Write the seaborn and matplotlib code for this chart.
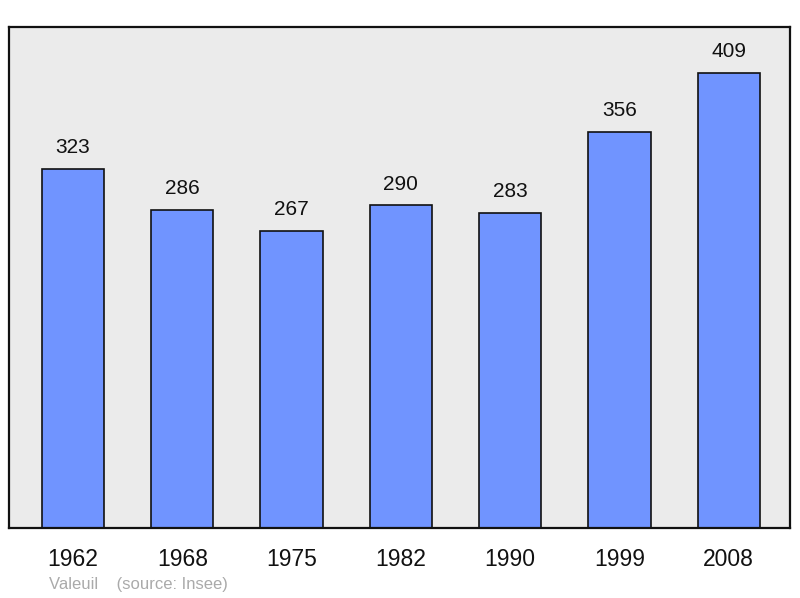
import matplotlib
matplotlib.use("Agg")
import matplotlib.pyplot as plt
import seaborn as sns
import pandas as pd

annees = ["1962", "1968", "1975", "1982", "1990", "1999", "2008"]
population = [323, 286, 267, 290, 283, 356, 409]

df = pd.DataFrame({"annee": annees, "pop": population})

sns.set_style("white")
plt.rcParams["font.family"] = ["Liberation Sans", "DejaVu Sans"]

fig = plt.figure(figsize=(8, 5.98), dpi=100)
ax = fig.add_axes([9 / 800, 70 / 598, 781 / 800, 501 / 598])
ax.set_facecolor("#ebebeb")

sns.barplot(data=df, x="annee", y="pop", color="#7094ff", saturation=1,
            width=0.57, edgecolor="#111111", linewidth=1.2, ax=ax)

for i, v in enumerate(population):
    ax.annotate(str(v), (i, v), xytext=(0, 8.5), textcoords="offset points",
                ha="center", va="bottom", fontsize=15, color="#111111")

ax.set_xlim(-0.585, 6.56)
ax.set_ylim(0, 450.5)
ax.set_xlabel("")
ax.set_ylabel("")
ax.set_yticks([])
ax.tick_params(axis="x", length=0, pad=14.5, labelsize=16.5, labelcolor="#111111")
for s in ax.spines.values():
    s.set_visible(True)
    s.set_color("#111111")
    s.set_linewidth(1.6)

fig.text(49 / 800, 1 - 584 / 598, "Valeuil    (source: Insee)", fontsize=12,
         color="#aaaaaa", va="center", ha="left")

fig.savefig("out.png", dpi=100)
